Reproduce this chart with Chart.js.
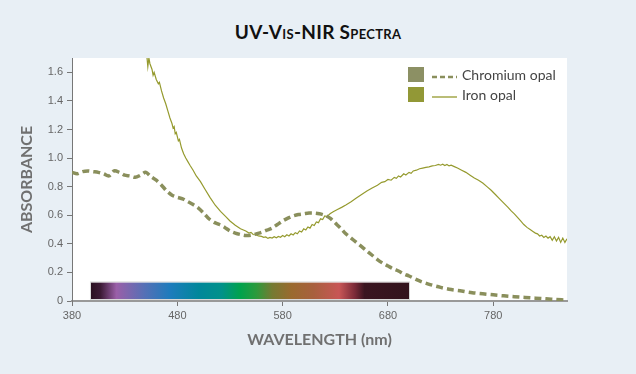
<!DOCTYPE html>
<html>
<head>
<meta charset="utf-8">
<script src="https://cdn.jsdelivr.net/npm/chart.js@4.4.1/dist/chart.umd.min.js"></script>
<style>
  html, body { margin: 0; padding: 0; background: #e8eff5; }
  #wrap { position: relative; width: 636px; height: 374px; }
  #title {
    position: absolute; left: 0; top: 20px; width: 636px; text-align: center;
    font-family: Lato, sans-serif; font-weight: bold; font-size: 19px;
    letter-spacing: 0.3px; font-variant: small-caps; color: #111;
  }
  canvas { position: absolute; left: 0; top: 0; }
</style>
</head>
<body>
<div id="wrap">
  <div id="title">UV-Vis-NIR Spectra</div>
  <canvas id="spectra" width="636" height="374"></canvas>
</div>
<script>
// Datos (longitud de onda en nm, absorbancia)
const chromiumNm = [380, 385, 390, 395, 400, 405, 410, 415, 420, 425, 430, 435, 440, 445, 450, 455, 460, 465, 470, 475,
  480, 485, 490, 495, 500, 505, 510, 515, 520, 525, 530, 535, 540, 545, 550, 555, 560, 565, 570, 575,
  580, 585, 590, 595, 600, 605, 610, 615, 620, 625, 630, 635, 640, 645, 650, 655, 660, 665, 670, 675,
  680, 685, 690, 695, 700, 710, 720, 730, 740, 750, 760, 770, 780, 790, 800, 810, 820, 830, 840, 850];
const chromiumAbs = [0.90, 0.89, 0.905, 0.91, 0.905, 0.90, 0.89, 0.875, 0.91, 0.90, 0.88, 0.875, 0.865, 0.88, 0.90, 0.87, 0.845, 0.81, 0.77, 0.74,
  0.725, 0.715, 0.695, 0.675, 0.65, 0.615, 0.575, 0.55, 0.535, 0.515, 0.49, 0.475, 0.465, 0.458, 0.46, 0.47, 0.48, 0.495, 0.51, 0.535,
  0.56, 0.58, 0.595, 0.605, 0.61, 0.615, 0.615, 0.61, 0.60, 0.58, 0.545, 0.51, 0.47, 0.44, 0.41, 0.38, 0.35, 0.32, 0.29, 0.265,
  0.245, 0.225, 0.21, 0.19, 0.175, 0.14, 0.115, 0.095, 0.08, 0.07, 0.058, 0.05, 0.043, 0.036, 0.03, 0.025, 0.02, 0.015, 0.01, 0.006];

const ironNm = [451, 452, 453, 454, 456, 457, 458, 460, 462, 463, 465, 467, 469, 471, 473, 475, 476, 477, 478, 479,
  481, 482, 484, 486, 488, 490, 492, 495, 498, 502, 506, 511, 516, 521, 526, 530, 535, 540, 545, 548,
  550, 552, 555, 557, 560, 562, 564, 566, 568, 570, 572, 574, 576, 578, 580, 582, 584, 586, 588, 590,
  592, 594, 596, 598, 600, 602, 604, 606, 608, 610, 612, 614, 616, 618, 620, 622, 625, 628, 632, 636,
  640, 645, 650, 655, 660, 665, 670, 674, 677, 680, 683, 686, 688, 690, 692, 695, 697, 700, 702, 704,
  707, 710, 713, 716, 719, 722, 725, 728, 730, 732, 734, 736, 738, 740, 743, 746, 750, 754, 758, 762,
  766, 770, 774, 778, 782, 786, 790, 794, 797, 800, 803, 806, 809, 812, 815, 818, 820, 822, 824, 826,
  828, 830, 832, 834, 836, 838, 840, 842, 844, 846, 848, 850];
const ironAbs = [1.72, 1.64, 1.70, 1.66, 1.62, 1.58, 1.60, 1.55, 1.52, 1.53, 1.47, 1.42, 1.38, 1.33, 1.28, 1.24, 1.21, 1.22, 1.17, 1.18,
  1.12, 1.13, 1.07, 1.03, 1.00, 0.975, 0.95, 0.915, 0.875, 0.835, 0.785, 0.725, 0.67, 0.627, 0.59, 0.56, 0.53, 0.505, 0.49, 0.475,
  0.48, 0.465, 0.462, 0.455, 0.452, 0.445, 0.448, 0.438, 0.445, 0.44, 0.45, 0.442, 0.452, 0.446, 0.458, 0.45, 0.463, 0.455, 0.47, 0.462,
  0.478, 0.47, 0.49, 0.483, 0.505, 0.497, 0.518, 0.51, 0.535, 0.528, 0.553, 0.548, 0.575, 0.57, 0.595, 0.59, 0.61, 0.625, 0.64, 0.655,
  0.672, 0.695, 0.72, 0.745, 0.77, 0.79, 0.81, 0.83, 0.835, 0.85, 0.845, 0.865, 0.858, 0.875, 0.868, 0.89, 0.882, 0.90, 0.893, 0.91,
  0.915, 0.925, 0.93, 0.935, 0.938, 0.945, 0.948, 0.955, 0.95, 0.957, 0.948, 0.955, 0.945, 0.95, 0.94, 0.93, 0.915, 0.90, 0.88, 0.86,
  0.845, 0.825, 0.80, 0.775, 0.745, 0.715, 0.685, 0.655, 0.63, 0.61, 0.585, 0.56, 0.535, 0.515, 0.50, 0.485, 0.475, 0.47, 0.455, 0.46,
  0.445, 0.455, 0.44, 0.45, 0.425, 0.45, 0.42, 0.445, 0.41, 0.44, 0.41, 0.435];

const xTicks = [380, 480, 580, 680, 780];
const yTicks = [0, 0.2, 0.4, 0.6, 0.8, 1.0, 1.2, 1.4, 1.6];
// Banda del espectro visible (nm)
const visibleBand = [398, 700];

const toPoints = (xs, ys) => xs.map((x, i) => ({ x: x, y: ys[i] }));

// Fondo blanco del área de trazado
const plotBackground = {
    id: 'plotBackground',
    beforeDraw(chart) {
        const { ctx, chartArea } = chart;
        ctx.save();
        ctx.fillStyle = '#ffffff';
        ctx.fillRect(chartArea.left, chartArea.top, chartArea.right - chartArea.left, chartArea.bottom - chartArea.top);
        ctx.restore();
    }
};

// Barra con los colores del espectro visible
const spectrumBar = {
    id: 'spectrumBar',
    beforeDatasetsDraw(chart) {
        const { ctx, scales } = chart;
        const x0 = scales.x.getPixelForValue(visibleBand[0]);
        const x1 = scales.x.getPixelForValue(visibleBand[1]);
        const y0 = scales.y.getPixelForValue(0.13);
        const y1 = scales.y.getPixelForValue(0.014);
        const g = ctx.createLinearGradient(x0, 0, x1, 0);
        g.addColorStop(0.0, '#2a1020');
        g.addColorStop(0.03, '#3c1a35');
        g.addColorStop(0.08, '#9a5fa8');
        g.addColorStop(0.17, '#5470b6');
        g.addColorStop(0.25, '#1d7cbc');
        g.addColorStop(0.34, '#00879a');
        g.addColorStop(0.41, '#00918a');
        g.addColorStop(0.47, '#00a24c');
        g.addColorStop(0.52, '#2c9a3c');
        g.addColorStop(0.57, '#757a32');
        g.addColorStop(0.63, '#9a6a2e');
        g.addColorStop(0.70, '#a8603e');
        g.addColorStop(0.78, '#c85656');
        g.addColorStop(0.83, '#7a2a38');
        g.addColorStop(0.86, '#3a1520');
        g.addColorStop(1.0, '#33131d');
        ctx.save();
        ctx.fillStyle = g;
        ctx.fillRect(x0, y0, x1 - x0, y1 - y0);
        ctx.strokeStyle = '#d8d8d8';
        ctx.lineWidth = 1;
        ctx.strokeRect(x0 - 0.5, y0 - 0.5, x1 - x0 + 1, y1 - y0 + 1);
        ctx.restore();
    }
};

// Leyenda con cuadro de color + muestra de línea
const boxLegend = {
    id: 'boxLegend',
    afterDraw(chart) {
        const { ctx } = chart;
        ctx.save();
        chart.data.datasets.forEach((ds, i) => {
            const top = 67 + i * 20;
            ctx.fillStyle = ds.swatchColor;
            ctx.fillRect(408, top, 16, 15);
            ctx.strokeStyle = ds.borderColor;
            ctx.lineWidth = i === 0 ? 2.5 : 1.3;
            ctx.setLineDash(i === 0 ? [5, 3] : []);
            ctx.beginPath();
            ctx.moveTo(432, top + 10);
            ctx.lineTo(457, top + 10);
            ctx.stroke();
            ctx.setLineDash([]);
            ctx.fillStyle = '#444';
            ctx.font = '14px Lato';
            ctx.textBaseline = 'middle';
            ctx.fillText(ds.label, 462, top + 8);
        });
        ctx.restore();
    }
};

const ctx = document.getElementById('spectra').getContext('2d');
const chart = new Chart(ctx, {
    type: 'line',
    data: {
        datasets: [{
            label: 'Chromium opal',
            data: toPoints(chromiumNm, chromiumAbs),
            borderColor: '#8a8f5c',
            swatchColor: '#8c9064',
            borderWidth: 3.5,
            borderDash: [7, 4],
            pointRadius: 0,
            tension: 0.3,
            clip: 0
        }, {
            label: 'Iron opal',
            data: toPoints(ironNm, ironAbs),
            borderColor: '#959a2e',
            swatchColor: '#929836',
            borderWidth: 1.2,
            pointRadius: 0,
            tension: 0,
            clip: 0
        }]
    },
    options: {
        responsive: false,
        animation: false,
        layout: { padding: { top: 58, right: 69, left: 0, bottom: 0 } },
        scales: {
            x: {
                type: 'linear',
                min: 380,
                max: 850,
                afterBuildTicks: (scale) => { scale.ticks = xTicks.map(v => ({ value: v })); },
                afterFit: (scale) => { scale.height = 73; },
                grid: { drawOnChartArea: false, drawTicks: true, tickLength: 5, color: '#777' },
                border: { display: true, color: '#999', width: 2 },
                ticks: {
                    color: '#666',
                    padding: 3,
                    maxRotation: 0,
                    font: { family: 'Liberation Sans', size: 11 }
                },
                title: {
                    display: true,
                    text: 'WAVELENGTH (nm)',
                    color: '#707070',
                    padding: { top: 0, bottom: 25 },
                    font: { family: 'Lato', size: 16, weight: 'bold' }
                }
            },
            y: {
                min: 0,
                max: 1.7,
                afterBuildTicks: (scale) => { scale.ticks = yTicks.map(v => ({ value: v })); },
                afterFit: (scale) => { scale.width = 72; },
                grid: { drawOnChartArea: false, drawTicks: true, tickLength: 5, color: '#777' },
                border: { display: true, color: '#777', width: 1 },
                ticks: {
                    color: '#666',
                    padding: 4,
                    font: { family: 'Liberation Sans', size: 11 },
                    callback: (v) => v === 0 ? '0' : v.toFixed(1)
                },
                title: {
                    display: true,
                    text: 'ABSORBANCE',
                    color: '#707070',
                    padding: { top: 17, bottom: 0 },
                    font: { family: 'Lato', size: 16, weight: 'bold' }
                }
            }
        },
        plugins: {
            legend: { display: false },
            title: { display: false },
            tooltip: { enabled: false }
        }
    },
    plugins: [plotBackground, spectrumBar, boxLegend]
});
</script>
</body>
</html>
